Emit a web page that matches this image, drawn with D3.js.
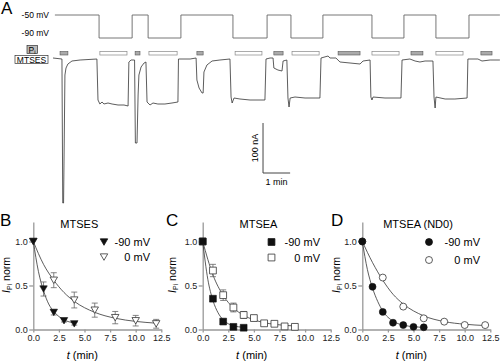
<!DOCTYPE html>
<html>
<head>
<meta charset="UTF-8">
<script src="https://cdn.jsdelivr.net/npm/d3@7"></script>
<style>
  body { margin: 0; background: #fff; }
  svg { font-family: "Liberation Sans", Arial, sans-serif; }
  .axis path, .axis line { stroke: #999; stroke-width: 1.3; fill: none; }
  .axis text { fill: #222; font-size: 9px; font-family: "Liberation Sans", Arial, sans-serif; }
</style>
</head>
<body>
<script>
// ---- panel A: voltage protocol (step times in min, levels in mV)
var voltTimes  = [0.07, 1.70, 2.92, 3.51, 4.72, 6.64, 7.90, 8.78, 9.96, 11.77, 12.95, 14.13, 15.35, 16.49];
var voltLevels = [-50, -90, -50, -90, -50, -90, -50, -90, -50, -90, -50, -90, -50];

// application bars [start, end] in min
var piBars    = [[0.26, 0.55], [3.03, 3.21], [5.31, 5.54], [8.15, 8.49], [10.52, 11.33], [13.21, 13.65], [15.79, 16.20]];
var mtsesBars = [[1.73, 2.73], [3.54, 4.58], [6.72, 7.71], [8.82, 9.82], [11.77, 12.77], [14.13, 15.13]];

// current trace [min, nA]
var currentTrace = [
  [0.00, 0], [0.33, -2], [0.36, -290], [0.39, -290], [0.44, -34], [0.48, -20], [0.55, -12], [0.70, -6], [1.00, -4], [1.62, -2],
  [1.66, -84], [1.73, -92], [1.81, -88], [1.88, -92], [2.03, -90], [2.18, -92], [2.40, -94], [2.62, -94], [2.77, -96],
  [2.80, -8], [2.88, -4], [3.01, -4], [3.04, -170], [3.10, -170], [3.14, -74], [3.17, -34], [3.25, -18], [3.36, -10], [3.43, -8],
  [3.47, -88], [3.58, -94], [3.69, -90], [3.87, -92], [4.13, -92], [4.39, -90], [4.61, -88],
  [4.63, -2], [5.06, -2], [5.28, 0], [5.31, -44], [5.39, -60], [5.50, -70], [5.54, -70], [5.57, -28], [5.68, -14], [5.87, -6], [6.16, -4], [6.53, -2],
  [6.57, -78], [6.61, -90], [6.68, -80], [6.90, -82], [7.27, -84], [7.64, -84], [7.82, -84],
  [7.86, -2], [8.01, 0], [8.12, 0], [8.15, -20], [8.30, -24], [8.45, -26], [8.49, -6], [8.63, -4],
  [8.67, -80], [8.71, -98], [8.75, -80], [8.93, -78], [9.30, -80], [9.67, -80], [9.85, -80],
  [9.89, 0], [10.15, 4], [10.22, 0], [10.44, 0], [10.59, -8], [10.96, -10], [11.33, -12], [11.44, -6], [11.70, -4],
  [11.73, -78], [11.77, -84], [11.81, -78], [12.25, -80], [12.62, -80], [12.84, -80],
  [12.88, -4], [13.17, -2], [13.36, -6], [13.54, -8], [13.73, -6], [14.02, -6],
  [14.06, -78], [14.10, -100], [14.13, -78], [14.47, -82], [14.83, -82], [15.28, -80],
  [15.31, -2], [15.68, -2], [15.83, -6], [16.13, -4], [16.49, -4]
];

// scale bar: 100 nA, 1 min
var scaleBarT = 7.75, scaleBarI = -230, scaleBarNA = 100, scaleBarMin = 1;

// ---- panels B-D: normalized current, [t (min), value, sem]
var bNeg90 = [[0, 1.0, 0], [1, 0.46, 0.08], [2, 0.195, 0.03], [3, 0.10, 0.015], [4, 0.065, 0.015]];
var b0     = [[0, 1.0, 0], [2, 0.56, 0.085], [4, 0.335, 0.09], [6, 0.22, 0.08], [8, 0.135, 0.07], [10, 0.10, 0.06], [12, 0.065, 0.05]];
var bFitNeg90 = [[0, 1], [0.5, 0.66], [1, 0.44], [1.5, 0.29], [2, 0.205], [3, 0.11], [4, 0.075]];
var bFit0     = [[0, 1], [1, 0.74], [2, 0.56], [3, 0.42], [4, 0.32], [6, 0.195], [8, 0.128], [10, 0.092], [12, 0.072]];

var cNeg90 = [[0, 1.0, 0], [1, 0.35, 0], [2, 0.09, 0], [3, 0.03, 0], [4, 0.02, 0]];
var c0     = [[0, 1.0, 0], [1, 0.67, 0.07], [2, 0.39, 0.06], [3, 0.25, 0.05], [4, 0.165, 0.04], [5, 0.13, 0.03],
              [6, 0.07, 0.015], [7, 0.065, 0.015], [8, 0.035, 0.01], [9, 0.03, 0.01]];
var cFitNeg90 = [[0, 1], [0.5, 0.57], [1, 0.33], [1.5, 0.19], [2, 0.11], [2.5, 0.065], [3, 0.043], [4, 0.025]];
var cFit0     = [[0, 1], [1, 0.62], [2, 0.387], [3, 0.246], [4, 0.161], [5, 0.11], [6, 0.078], [7, 0.059], [8, 0.047], [9, 0.04]];

var dNeg90 = [[0, 1.0, 0], [1, 0.485, 0], [2, 0.20, 0], [3, 0.077, 0], [4, 0.05, 0], [5, 0.03, 0], [6, 0.025, 0]];
var d0     = [[0, 1.0, 0], [2, 0.59, 0], [4, 0.26, 0], [6, 0.127, 0], [8, 0.089, 0], [10, 0.051, 0], [12, 0.05, 0]];
var dFitNeg90 = [[0, 1], [0.5, 0.68], [1, 0.47], [1.5, 0.32], [2, 0.21], [3, 0.095], [4, 0.05], [5, 0.032], [6, 0.025]];
var dFit0     = [[0, 1], [1, 0.76], [2, 0.56], [3, 0.4], [4, 0.29], [6, 0.155], [8, 0.09], [10, 0.06], [12, 0.045]];

var xTicks = [0, 2.5, 5, 7.5, 10, 12.5];
var yTicks = [0, 0.5, 1.0];
var legendLabels = ["-90 mV", "0 mV"];

var svg = d3.select("body").append("svg")
    .attr("width", 500)
    .attr("height", 361);

// ================= panel A =================
var xA = d3.scaleLinear().domain([0, 16.5]).range([53, 500.15]);
var yI = d3.scaleLinear().domain([0, -300]).range([58, 208]);
var yV = d3.scaleLinear().domain([-50, -90]).range([15, 38]);

var voltPts = voltLevels.map(function (v, i) { return [voltTimes[i], v]; });
voltPts.push([voltTimes[voltTimes.length - 1], voltLevels[voltLevels.length - 1]]);

svg.append("path")
    .attr("d", d3.line().curve(d3.curveStepAfter)
        .x(function (d) { return xA(d[0]); })
        .y(function (d) { return yV(d[1]); })(voltPts))
    .attr("fill", "none")
    .attr("stroke", "#666")
    .attr("stroke-width", 0.9);

svg.append("text").attr("x", 1).attr("y", 14).attr("font-size", 17).text("A");
svg.append("text").attr("x", 49).attr("y", 18).attr("text-anchor", "end").attr("font-size", 8.5).text("-50 mV");
svg.append("text").attr("x", 49).attr("y", 36).attr("text-anchor", "end").attr("font-size", 8.5).text("-90 mV");

// legend boxes
svg.append("rect").attr("x", 27).attr("y", 45.5).attr("width", 10.5).attr("height", 8)
    .attr("fill", "#bbb").attr("stroke", "#333").attr("stroke-width", 0.7);
var piTxt = svg.append("text").attr("x", 32).attr("y", 52.5).attr("text-anchor", "middle").attr("font-size", 8.5);
piTxt.append("tspan").text("P");
piTxt.append("tspan").attr("font-size", 6).attr("dy", 1).text("i");
svg.append("rect").attr("x", 15).attr("y", 55.5).attr("width", 33).attr("height", 8)
    .attr("fill", "#fff").attr("stroke", "#333").attr("stroke-width", 0.7);
svg.append("text").attr("x", 31.5).attr("y", 62.5).attr("text-anchor", "middle").attr("font-size", 8.5).text("MTSES");

// bars
svg.selectAll(".pibar").data(piBars).enter().append("rect")
    .attr("class", "pibar")
    .attr("x", function (d) { return xA(d[0]); })
    .attr("width", function (d) { return xA(d[1]) - xA(d[0]); })
    .attr("y", 51.5).attr("height", 3.5)
    .attr("fill", "#aaa").attr("stroke", "#555").attr("stroke-width", 0.6);
svg.selectAll(".mbar").data(mtsesBars).enter().append("rect")
    .attr("class", "mbar")
    .attr("x", function (d) { return xA(d[0]); })
    .attr("width", function (d) { return xA(d[1]) - xA(d[0]); })
    .attr("y", 51.5).attr("height", 3.5)
    .attr("fill", "#fff").attr("stroke", "#888").attr("stroke-width", 0.7);

// current trace
svg.append("path")
    .attr("d", d3.line()
        .x(function (d) { return xA(d[0]); })
        .y(function (d) { return yI(d[1]); })(currentTrace))
    .attr("fill", "none")
    .attr("stroke", "#333")
    .attr("stroke-width", 0.8);

// scale bar
svg.append("path")
    .attr("d", d3.line()([
        [xA(scaleBarT), yI(scaleBarI + scaleBarNA)],
        [xA(scaleBarT), yI(scaleBarI)],
        [xA(scaleBarT + scaleBarMin), yI(scaleBarI)]
    ]))
    .attr("fill", "none").attr("stroke", "#444").attr("stroke-width", 1);
svg.append("text")
    .attr("transform", "translate(" + (xA(scaleBarT) - 5) + "," + yI(scaleBarI + scaleBarNA / 2) + ") rotate(-90)")
    .attr("text-anchor", "middle").attr("font-size", 9).text(scaleBarNA + " nA");
svg.append("text")
    .attr("x", xA(scaleBarT + scaleBarMin / 2)).attr("y", yI(scaleBarI) + 12)
    .attr("text-anchor", "middle").attr("font-size", 9).text(scaleBarMin + " min");

// ================= panels B-D =================
function triDown(size) {
    return function (g) { g.attr("d", d3.symbol().type(d3.symbolTriangle).size(size)()).attr("transform", null); };
}

function drawPanel(p) {
    var x = d3.scaleLinear().domain([0, 12.5]).range([p.x0, p.x0 + 128]);
    var y = d3.scaleLinear().domain([0, 1.22]).range([329.5, 222.1]);
    var g = svg.append("g");

    g.append("g").attr("class", "axis")
        .attr("transform", "translate(0,329.5)")
        .call(d3.axisBottom(x).tickValues(xTicks).tickFormat(d3.format(".1f")).tickSize(3).tickSizeOuter(0).tickPadding(2));
    g.append("g").attr("class", "axis")
        .attr("transform", "translate(" + p.x0 + ",0)")
        .call(d3.axisLeft(y).tickValues(yTicks).tickFormat(d3.format(".1f")).tickSize(4).tickSizeOuter(0).tickPadding(1.5));

    svg.append("text").attr("x", p.letterX).attr("y", 226).attr("font-size", 17).text(p.letter);
    svg.append("text").attr("x", p.x0 + p.titleDx).attr("y", 228).attr("text-anchor", "middle")
        .attr("font-size", 11).text(p.title);

    var xl = svg.append("text").attr("x", p.x0 + 49).attr("y", 359).attr("text-anchor", "middle").attr("font-size", 11);
    xl.append("tspan").attr("font-style", "italic").text("t");
    xl.append("tspan").text(" (min)");

    var yl = svg.append("text")
        .attr("transform", "translate(" + (p.x0 + p.ylabDx + 3.5) + ",275) rotate(-90)")
        .attr("text-anchor", "middle").attr("font-size", 10.5);
    yl.append("tspan").attr("font-style", "italic").text("I");
    yl.append("tspan").attr("font-size", 7).attr("dy", 2).text("Pi");
    yl.append("tspan").attr("dy", -2).text(" norm");

    var line = d3.line().curve(d3.curveMonotoneX)
        .x(function (d) { return x(d[0]); })
        .y(function (d) { return y(d[1]); });
    [p.fitA, p.fitB].forEach(function (f) {
        g.append("path").attr("d", line(f)).attr("fill", "none").attr("stroke", "#333").attr("stroke-width", 0.8);
    });

    // error bars
    [p.dataA, p.dataB].forEach(function (ds) {
        var eb = g.selectAll(null).data(ds.filter(function (d) { return d[2] > 0; })).enter().append("g")
            .attr("stroke", "#666").attr("stroke-width", 0.8);
        eb.append("line")
            .attr("x1", function (d) { return x(d[0]); }).attr("x2", function (d) { return x(d[0]); })
            .attr("y1", function (d) { return y(d[1] - d[2]); }).attr("y2", function (d) { return y(d[1] + d[2]); });
        eb.append("line")
            .attr("x1", function (d) { return x(d[0]) - 3; }).attr("x2", function (d) { return x(d[0]) + 3; })
            .attr("y1", function (d) { return y(d[1] + d[2]); }).attr("y2", function (d) { return y(d[1] + d[2]); });
        eb.append("line")
            .attr("x1", function (d) { return x(d[0]) - 3; }).attr("x2", function (d) { return x(d[0]) + 3; })
            .attr("y1", function (d) { return y(d[1] - d[2]); }).attr("y2", function (d) { return y(d[1] - d[2]); });
    });

    var sym = d3.symbol().type(p.symbol).size(p.symSize);
    var rot = p.symbol === d3.symbolTriangle ? " rotate(180)" : "";
    var dy = p.symbol === d3.symbolTriangle ? -1 : 0;

    g.selectAll(null).data(p.dataB).enter().append("path")
        .attr("d", sym())
        .attr("transform", function (d) { return "translate(" + x(d[0]) + "," + (y(d[1]) + dy) + ")" + rot; })
        .attr("fill", "#fff").attr("stroke", "#333").attr("stroke-width", 0.8);
    g.selectAll(null).data(p.dataA).enter().append("path")
        .attr("d", sym())
        .attr("transform", function (d) { return "translate(" + x(d[0]) + "," + (y(d[1]) + dy) + ")" + rot; })
        .attr("fill", "#111").attr("stroke", "#111").attr("stroke-width", 0.6);

    // legend
    [0, 1].forEach(function (i) {
        var ly = p.legY[i];
        g.append("path").attr("d", sym())
            .attr("transform", "translate(" + (p.x0 + p.legSymDx) + "," + (ly + dy) + ")" + rot)
            .attr("fill", i === 0 ? "#111" : "#fff").attr("stroke", i === 0 ? "#111" : "#333").attr("stroke-width", 0.8);
        g.append("text").attr("x", p.x0 + p.legEndDx).attr("y", ly + 4).attr("text-anchor", "end")
            .attr("font-size", 11).text(legendLabels[i]);
    });
}

drawPanel({ x0: 33.3, letter: "B", letterX: 0, title: "MTSES", titleDx: 46, ylabDx: -27,
    dataA: bNeg90, dataB: b0, fitA: bFitNeg90, fitB: bFit0,
    symbol: d3.symbolTriangle, symSize: 24, legSymDx: 70.7, legEndDx: 116.7, legY: [242, 257] });
drawPanel({ x0: 202.7, letter: "C", letterX: 166, title: "MTSEA", titleDx: 55.8, ylabDx: -30,
    dataA: cNeg90, dataB: c0, fitA: cFitNeg90, fitB: cFit0,
    symbol: d3.symbolSquare, symSize: 46, legSymDx: 68.8, legEndDx: 117.3, legY: [242, 257.5] });
drawPanel({ x0: 362.3, letter: "D", letterX: 331, title: "MTSEA (ND0)", titleDx: 55.7, ylabDx: -26,
    dataA: dNeg90, dataB: d0, fitA: dFitNeg90, fitB: dFit0,
    symbol: d3.symbolCircle, symSize: 38, legSymDx: 66.7, legEndDx: 117.7, legY: [242, 260] });
</script>
</body>
</html>
